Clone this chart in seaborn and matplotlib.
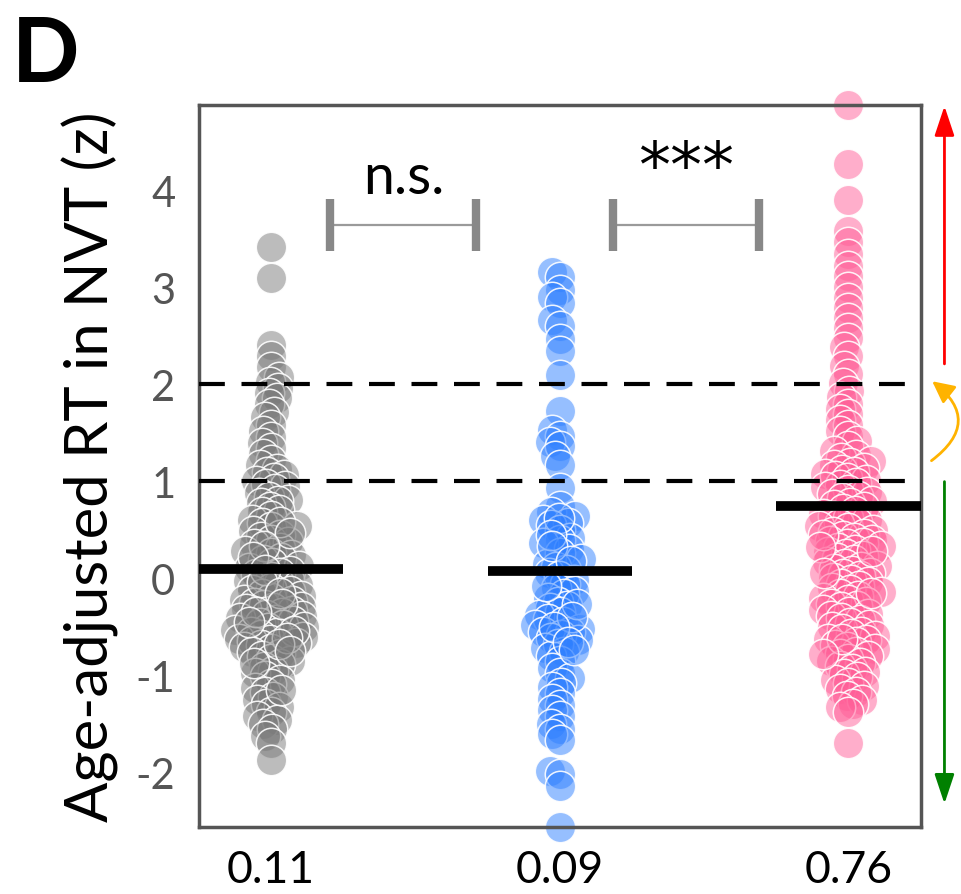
import matplotlib

matplotlib.use("Agg")
import matplotlib.pyplot as plt
import pandas as pd
import seaborn as sns
from matplotlib.ticker import MultipleLocator


GROUPS = ["0.11", "0.09", "0.76"]
COLORS = ["#7a7a7a", "#2f80ff", "#ff5f98"]
GROUP_MEANS = [0.10, 0.08, 0.75]
CUTOFFS = [1.0, 2.0]
SIG_LABELS = ["n.s.", "***"]

gray_rt = [
    3.41, 3.09, 2.40, 2.29, 2.18, 2.07, 2.02, 1.96, 1.91, 1.86, 1.80, 1.71, 1.66, 1.58,
    1.52, 1.46, 1.39, 1.34, 1.28, 1.22, 1.17, 1.13, 1.10, 1.06, 1.03, 1.00, 0.97, 0.95,
    0.92, 0.88, 0.84, 0.81, 0.80, 0.78, 0.74, 0.70, 0.68, 0.64, 0.60, 0.57, 0.54, 0.53,
    0.49, 0.45, 0.43, 0.40, 0.37, 0.35, 0.31, 0.28, 0.26, 0.24, 0.21, 0.19, 0.16, 0.13,
    0.11, 0.08, 0.06, 0.04, 0.01, -0.02, -0.03, -0.05, -0.07, -0.10, -0.12, -0.13, -0.16,
    -0.18, -0.20, -0.22, -0.23, -0.25, -0.27, -0.29, -0.31, -0.32, -0.34, -0.36, -0.38,
    -0.39, -0.41, -0.43, -0.44, -0.46, -0.48, -0.50, -0.51, -0.53, -0.55, -0.56, -0.58,
    -0.60, -0.62, -0.63, -0.65, -0.67, -0.69, -0.71, -0.73, -0.76, -0.78, -0.80, -0.83,
    -0.85, -0.88, -0.91, -0.95, -0.98, -1.01, -1.05, -1.09, -1.13, -1.17, -1.22, -1.25,
    -1.29, -1.33, -1.38, -1.42, -1.46, -1.50, -1.55, -1.62, -1.70, -1.87,
    0.58, 0.47, 0.33, 0.22, 0.09, -0.04, -0.15, -0.26, -0.35, -0.45, -0.54, -0.61,
    -0.68, -0.75, -0.87, -1.15,
]
blue_rt = [
    3.16, 3.10, 2.97, 2.90, 2.84, 2.66, 2.60, 2.47, 2.34, 2.09, 1.72, 1.53, 1.47, 1.40,
    1.36, 1.26, 1.17, 0.93, 0.75, 0.68, 0.64, 0.60, 0.57, 0.55, 0.50, 0.42, 0.40, 0.36,
    0.30, 0.26, 0.20, 0.15, 0.12, 0.09, 0.05, 0.02, -0.02, -0.06, -0.10, -0.13, -0.16,
    -0.20, -0.24, -0.28, -0.31, -0.35, -0.38, -0.42, -0.45, -0.48, -0.52, -0.55, -0.55,
    -0.58, -0.61, -0.64, -0.68, -0.72, -0.76, -0.80, -0.85, -0.92, -0.98, -1.03, -1.08,
    -1.12, -1.18, -1.24, -1.30, -1.36, -1.42, -1.50, -1.55, -1.60, -1.66, -1.98, -2.02,
    -2.14, -2.56,
    0.62, 0.45, 0.33, 0.18, -0.08, -0.26, -0.40, -0.50, -0.66, -0.74,
]
pink_rt = [
    4.88, 4.27, 3.90, 3.58, 3.46, 3.34, 3.22, 3.11, 3.00, 2.89, 2.79, 2.68, 2.58, 2.48,
    2.38, 2.29, 2.19, 2.10, 2.01,
    1.93, 1.87, 1.80, 1.74, 1.69, 1.63, 1.58, 1.52, 1.47, 1.41, 1.36, 1.31,
    1.27, 1.24, 1.21, 1.19, 1.17, 1.14, 1.12, 1.10, 1.07, 1.05, 1.03, 1.01, 0.98, 0.96,
    0.94, 0.91, 0.89, 0.87, 0.85, 0.83, 0.80, 0.78, 0.76, 0.73, 0.71, 0.69, 0.66, 0.64,
    0.62, 0.60, 0.58, 0.56, 0.54, 0.52, 0.50, 0.48, 0.46, 0.44, 0.42, 0.40, 0.38, 0.36,
    0.35, 0.33, 0.31, 0.29, 0.27, 0.25, 0.23, 0.21, 0.19, 0.17, 0.15, 0.13, 0.12, 0.10,
    0.08, 0.06, 0.04, 0.02, 0.00, -0.02, -0.04, -0.06, -0.08, -0.10, -0.12, -0.14, -0.16,
    -0.18, -0.20, -0.22, -0.24, -0.26, -0.28, -0.30, -0.33, -0.35, -0.37, -0.39, -0.41,
    -0.43, -0.46, -0.48, -0.50, -0.52, -0.55, -0.57, -0.59, -0.62, -0.64, -0.66, -0.69,
    -0.71, -0.73, -0.76, -0.78, -0.80, -0.83, -0.85, -0.87, -0.90, -0.93, -0.96, -0.99,
    -1.02, -1.05, -1.08, -1.11, -1.14, -1.17, -1.21, -1.25, -1.29, -1.33, -1.38, -1.70,
    0.45, 0.32, 0.28, 0.05, -0.15, -0.62, -0.78,
]


def build_frame() -> pd.DataFrame:
    parts = []
    for name, values in zip(GROUPS, [gray_rt, blue_rt, pink_rt]):
        parts.append(pd.DataFrame({"group": name, "rt": values}))
    return pd.concat(parts, ignore_index=True)


def main() -> None:
    df = build_frame()

    sns.set_style("white")
    plt.rcParams["font.family"] = ["Lato", "DejaVu Sans"]
    plt.rcParams["axes.unicode_minus"] = False
    plt.rcParams["text.color"] = "black"

    fig = plt.figure(figsize=(9.61, 8.95), dpi=100)
    ax = fig.add_axes([0.207, 0.075, 0.751, 0.807])

    # swarm layout with small markers, then blow the markers up so they overlap
    sns.swarmplot(
        data=df, x="group", y="rt", hue="group", order=GROUPS, hue_order=GROUPS,
        palette=COLORS, size=7, legend=False, ax=ax,
    )
    ax.set_xlim(-0.25, 2.25)
    ax.set_ylim(-2.56, 4.88)
    fig.canvas.draw()
    for coll in ax.collections:
        coll.__dict__.pop("draw", None)
        r, g, b, _ = coll.get_facecolor()[0]
        coll.set_facecolor((r, g, b, 0.5))
        coll.set_edgecolor((1, 1, 1, 0.9))
        coll.set_linewidth(1.1)
        coll.set_sizes([480])
        coll.set_clip_on(False)
        coll.set_zorder(2)

    for i, m in enumerate(GROUP_MEANS):
        ax.hlines(m, i - 0.25, i + 0.25, colors="black", lw=7, zorder=4)

    ax.hlines(CUTOFFS, -0.25, 2.21, colors="black", lw=3,
              linestyles=(0, (6.2, 4.0)), zorder=3)

    brackets = [(0.205, 0.711), (1.185, 1.69)]
    for (x0, x1), label in zip(brackets, SIG_LABELS):
        ax.plot([x0, x1], [3.64, 3.64], color="#9a9a9a", lw=1.6, zorder=3)
        ax.vlines([x0, x1], 3.37, 3.91, colors="#888888", lw=6, zorder=3)
    ax.text(sum(brackets[0]) / 2, 3.97, SIG_LABELS[0], ha="center", va="baseline",
            fontsize=40)
    ax.text(sum(brackets[1]) / 2, 4.23, SIG_LABELS[1], ha="center", va="center",
            fontsize=46, family="DejaVu Sans")

    ax.yaxis.set_major_locator(MultipleLocator(1))
    ax.yaxis.set_minor_locator(MultipleLocator(0.2))
    ax.tick_params(axis="y", which="major", length=9, width=2.5, color="#555555",
                   labelcolor="#555555", labelsize=30, direction="out", pad=8)
    ax.tick_params(axis="y", which="minor", length=6, width=2.5, color="#555555",
                   direction="out")
    ax.tick_params(axis="x", length=8, width=2.5, color="#555555", labelcolor="black",
                   labelsize=32, direction="out", pad=8)
    for spine in ax.spines.values():
        spine.set_color("#555555")
        spine.set_linewidth(2.5)

    ax.set_xlabel("")
    ax.set_ylabel("Age-adjusted RT in NVT (z)", fontsize=43, color="black", labelpad=12)

    arrow_kw = dict(xycoords="axes fraction", textcoords="axes fraction",
                    annotation_clip=False)
    ax.annotate("", xy=(1.033, 0.998), xytext=(1.033, 0.641),
                arrowprops=dict(arrowstyle="-|>,head_length=0.6,head_width=0.2",
                                color="red", lw=2, mutation_scale=30,
                                shrinkA=0, shrinkB=0), **arrow_kw)
    ax.annotate("", xy=(1.033, 0.032), xytext=(1.033, 0.478),
                arrowprops=dict(arrowstyle="-|>,head_length=0.6,head_width=0.2",
                                color="green", lw=2, mutation_scale=30,
                                shrinkA=0, shrinkB=0), **arrow_kw)
    ax.annotate("", xy=(1.016, 0.617), xytext=(1.015, 0.507),
                arrowprops=dict(arrowstyle="-|>,head_length=0.6,head_width=0.3",
                                color="#ffb300", lw=2, mutation_scale=22,
                                connectionstyle="arc3,rad=0.65",
                                shrinkA=0, shrinkB=0), **arrow_kw)

    fig.text(0.012, 0.983, "D", fontsize=64, fontweight="bold", va="top", ha="left",
             color="black")

    fig.savefig("out.png", dpi=100)


if __name__ == "__main__":
    main()
